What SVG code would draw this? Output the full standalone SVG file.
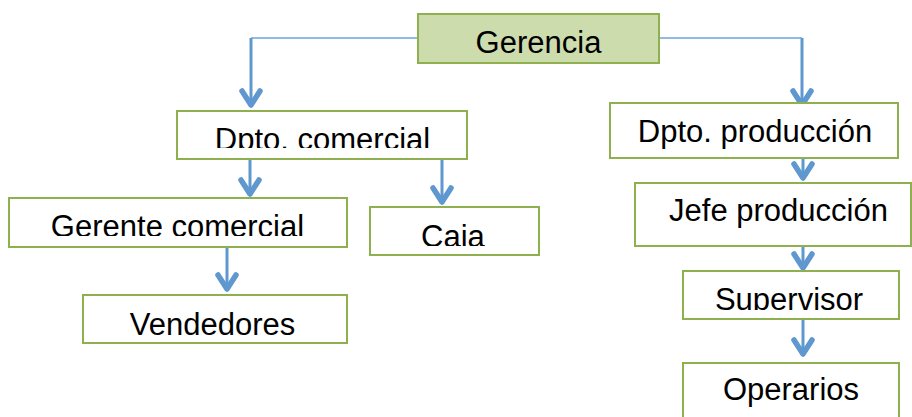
<svg xmlns="http://www.w3.org/2000/svg" width="912" height="417" viewBox="0 0 912 417">
<style>
.box{fill:#ffffff;stroke:#8eb04f;stroke-width:2}
.top{fill:#cddcac;stroke:#8eb04f;stroke-width:2}
.t{font-family:"Liberation Sans",Arial,sans-serif;font-size:31px;fill:#000;text-anchor:middle}
.h{fill:none;stroke:#6fa3dc;stroke-width:1.5}
.v{fill:none;stroke:#5f97cf;stroke-width:3;marker-end:url(#chev)}
</style>
<defs>
<marker id="chev" markerUnits="userSpaceOnUse" viewBox="-20 -14 24 28" refX="0" refY="0" markerWidth="24" markerHeight="28" orient="auto">
<path d="M-14,-9 L0,0 L-14,9" fill="none" stroke="#5f97cf" stroke-width="5.5" stroke-linecap="round" stroke-linejoin="round"/>
</marker>
<clipPath id="c1"><rect x="177" y="111" width="290" height="37"/></clipPath>
<clipPath id="c2"><rect x="370" y="207" width="169" height="39"/></clipPath>
<clipPath id="c3"><rect x="9" y="198" width="338" height="38"/></clipPath>
<clipPath id="c4"><rect x="83" y="295" width="264" height="40"/></clipPath>
<clipPath id="c5"><rect x="683" y="271" width="216" height="39"/></clipPath>
</defs>
<g id="connectors">
<path class="h" d="M418,38 H251"/>
<path class="v" d="M251,38 V105"/>
<path class="h" d="M659,38 H802"/>
<path class="v" d="M802,38 V105"/>
<path class="v" d="M250,159 V194"/>
<path class="v" d="M442,159 V202"/>
<path class="v" d="M227,247 V289"/>
<path class="v" d="M803,158 V178"/>
<path class="v" d="M803,246 V268"/>
<path class="v" d="M803,319 V354"/>
</g>
<g id="gerencia"><rect class="top" x="418" y="14" width="241" height="49"/><text class="t" x="538.5" y="53">Gerencia</text></g>
<g id="dpto-comercial"><rect class="box" x="177" y="111" width="290" height="48"/><text class="t" x="322.5" y="150" clip-path="url(#c1)">Dpto. comercial</text></g>
<g id="caja"><rect class="box" x="370" y="207" width="169" height="48"/><text class="t" x="453" y="247" clip-path="url(#c2)">Caja</text></g>
<g id="gerente-comercial"><rect class="box" x="9" y="198" width="338" height="49"/><text class="t" x="177.5" y="237" clip-path="url(#c3)">Gerente comercial</text></g>
<g id="vendedores"><rect class="box" x="83" y="295" width="264" height="48"/><text class="t" x="212.5" y="335" clip-path="url(#c4)">Vendedores</text></g>
<g id="dpto-produccion"><rect class="box" x="610" y="103" width="288" height="55"/><text class="t" x="755" y="142">Dpto. producción</text></g>
<g id="jefe-produccion"><rect class="box" x="635" y="183" width="276" height="63"/><text class="t" x="778.5" y="221">Jefe producción</text></g>
<g id="supervisor"><rect class="box" x="683" y="271" width="216" height="48"/><text class="t" x="789" y="310" clip-path="url(#c5)">Supervisor</text></g>
<g id="operarios"><rect class="box" x="683" y="363" width="216" height="60"/><text class="t" x="791" y="400">Operarios</text></g>
</svg>
